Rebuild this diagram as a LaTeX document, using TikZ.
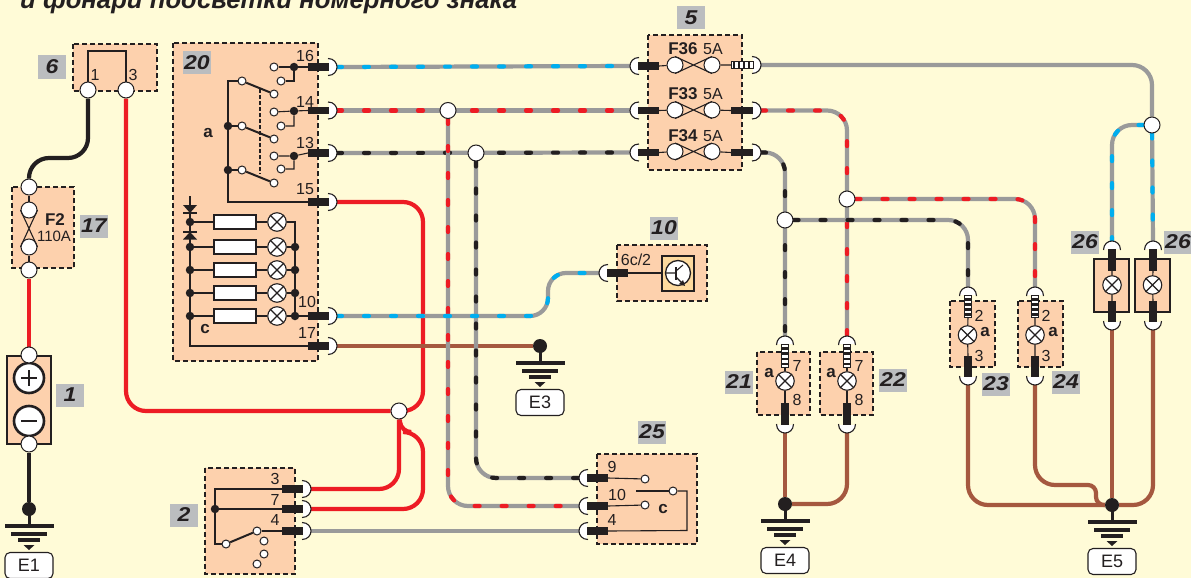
\documentclass[tikz,border=0pt]{standalone}
\usepackage{fontspec}
\setmainfont{Liberation Sans}
\definecolor{pg}{HTML}{FFFBD7}
\definecolor{boxf}{HTML}{FDD1AD}
\definecolor{labg}{HTML}{BBBDBF}
\definecolor{ink}{HTML}{231F20}
\definecolor{wgray}{HTML}{9A9A9A}
\definecolor{wred}{HTML}{ED1C24}
\definecolor{wblue}{HTML}{00AEEF}
\definecolor{wbrown}{HTML}{A5583F}
\definecolor{inner}{HTML}{FDDA9E}
\pgfdeclarelayer{bg}\pgfdeclarelayer{wires}
\pgfsetlayers{bg,wires,main}
\tikzset{
  dbox/.style={draw=ink,fill=boxf,line width=1.1pt,dash pattern=on 5pt off 3pt},
  sbox/.style={draw=ink,fill=boxf,line width=1.1pt},
  glab/.style={fill=labg,text=ink,inner sep=0pt,minimum width=28pt,minimum height=23pt,font=\bfseries\itshape\fontsize{20}{20}\selectfont},
  num/.style={text=ink,inner sep=0pt,font=\fontsize{16}{16}\selectfont},
  bnum/.style={text=ink,inner sep=0pt,font=\bfseries\fontsize{17}{17}\selectfont},
  blet/.style={text=ink,inner sep=0pt,font=\bfseries\fontsize{17}{17}\selectfont},
  cont/.style={circle,draw=ink,fill=white,line width=1pt,inner sep=0pt,minimum size=8pt},
  bigc/.style={circle,draw=ink,fill=white,line width=1pt,inner sep=0pt,minimum size=16pt},
  jd/.style={circle,fill=ink,inner sep=0pt,minimum size=8.5pt},
  lampc/.style={circle,draw=ink,fill=white,line width=1.1pt,inner sep=0pt,minimum size=18.5pt},
  thin wire/.style={draw=ink,line width=1.1pt},
  lever/.style={draw=ink,line width=2pt},
  resist/.style={draw=ink,fill=white,line width=1.1pt,inner sep=0pt,minimum width=42pt,minimum height=14pt},
  gw/.style={draw=wgray,line width=4.2pt,rounded corners=20pt},
  tone/.style={draw=#1,line width=4.2pt,line cap=round,dash pattern=on 5pt off 22pt,rounded corners=20pt},
  solidw/.style={draw=#1,line width=4.2pt,rounded corners=20pt}
}
\newcommand\twotone[2]{\begin{pgfonlayer}{wires}\draw[gw] #2;\draw[tone=#1] #2;\end{pgfonlayer}}
\newcommand\plainw[2]{\begin{pgfonlayer}{wires}\draw[solidw=#1] #2;\end{pgfonlayer}}
\newcommand\moonshape{\fill[white] (0,-8.5) .. controls (5,-8.5) and (8,-4) .. (8,0) .. controls (8,4) and (5,8.5) .. (0,8.5) -- cycle;
  \draw[ink,line width=1.1pt] (-1,-8.5) .. controls (5,-8.5) and (8,-4) .. (8,0) .. controls (8,4) and (5,8.5) .. (-1,8.5);}
% name,x,y,angle,length : black pin
\newcommand\term[5]{\begin{scope}[shift={(#2,#3)},rotate=#4]
  \moonshape
  \fill[ink] (-#5,-3.6) rectangle (0,3.6);
  \node[coordinate] (#1) at (8,0) {};
  \node[coordinate] (#1-in) at (-#5,0) {};
\end{scope}}
% name,x,y,angle,length : striped pin
\newcommand\sterm[5]{\begin{scope}[shift={(#2,#3)},rotate=#4]
  \moonshape
  \draw[ink,fill=white,line width=1pt] (-#5,-3.6) rectangle (0,3.6);
  \foreach \k in {1,2,3,4}{\fill[ink] ({-#5+(\k-0.7)*#5/4.4},-3.6) rectangle ({-#5+(\k-0.2)*#5/4.4},3.6);}
  \node[coordinate] (#1) at (8,0) {};
  \node[coordinate] (#1-in) at (-#5,0) {};
\end{scope}}
\newcommand\lampn[3]{\node[lampc] (#1) at (#2,#3) {};
  \draw[ink,line width=1.1pt] (#1.45)--(#1.225) (#1.135)--(#1.315);}
% name,x,y,label
\newcommand\groundn[4]{\node[circle,fill=ink,inner sep=0pt,minimum size=14pt] (#1) at (#2,#3) {};
  \begin{scope}[shift={(#2,#3)}]
  \fill[ink] (-24.5,14.5) rectangle (24.5,18.5);
  \fill[ink] (-18,22.5) rectangle (18,26.5);
  \fill[ink] (-11,29) rectangle (11,33);
  \fill[ink] (-5.5,36) -- (5.5,36) -- (0,41) -- cycle;
  \draw[ink,line width=3pt] (0,0) -- (0,15);
  \node[draw=ink,fill=white,line width=1.1pt,rounded corners=5pt,inner sep=0pt,minimum width=48pt,minimum height=26pt,text=ink,font=\fontsize{18}{18}\selectfont] (#1-lab) at (0,56.5) {#4};
  \end{scope}}
\newcommand\glabel[4]{\node[glab] (#1) at (#2,#3) {\scalebox{1.15}[1]{#4}};}
% fuse between two named nodes
\newcommand\fusex[2]{\draw[thin wire] (#1.180)--(#2.0) (#1.0)--(#2.180);}
\newcommand\fuseh[2]{\draw[thin wire] (#1.90)--(#2.270) (#1.270)--(#2.90);}
\begin{document}
\begin{tikzpicture}[x=1pt,y=-1pt]
\useasboundingbox (0,0) rectangle (1191,578);
\begin{pgfonlayer}{bg}\fill[pg] (0,0) rectangle (1191,578);\end{pgfonlayer}
\node[anchor=base west,inner sep=0pt,text=ink,font=\bfseries\itshape\fontsize{25.7}{26}\selectfont] (title) at (20,9) {и фонари подсветки номерного знака};

% boxes
\draw[dbox] (73,44) rectangle (157,91);
\draw[dbox] (12,187) rectangle (74,268);
\draw[sbox] (7,356) rectangle (51,444);
\draw[dbox] (173,43) rectangle (318,361);
\draw[dbox] (648,35) rectangle (742,170);
\draw[dbox] (617,245) rectangle (707,301);
\draw[dbox] (205,468) rectangle (295,574);
\draw[dbox] (597,454) rectangle (697,544);
\draw[dbox] (757,352) rectangle (810,415);
\draw[dbox] (820,352) rectangle (873,415);
\draw[dbox] (950,301) rectangle (995,367);
\draw[dbox] (1018,301) rectangle (1063,367);
\draw[sbox] (1094,259) rectangle (1129,312);
\draw[sbox] (1135,259) rectangle (1170,312);

% grey labels
\glabel{L6}{52}{67}{6}
\glabel{L17}{94}{226}{17}
\glabel{L1}{70}{395}{1}
\glabel{L20}{197}{63}{20}
\glabel{L2}{184}{515}{2}
\glabel{L5}{691}{18}{5}
\glabel{L10}{664}{228}{10}
\glabel{L25}{652}{432}{25}
\glabel{L21}{739}{382}{21}
\glabel{L22}{893}{380}{22}
\glabel{L23}{996}{384}{23}
\glabel{L24}{1066}{382}{24}
\glabel{L26a}{1085}{242}{26}
\glabel{L26b}{1178}{242}{26}

% big terminals left side
\node[bigc] (c61) at (88,90) {};
\node[bigc] (c63) at (126,90) {};
\node[num] (n61) at (95,75) {1};
\node[num] (n63) at (133,75) {3};
\draw[thin wire] (c61) -- (88,51) -- (126,51) -- (c63);
\node[bigc] (c17t) at (29,187) {};
\node[bigc] (f2a) at (29,210) {};
\node[bigc] (f2b) at (29,247) {};
\node[bigc] (c17b) at (29,270) {};
\draw[thin wire] (c17t)--(f2a) (f2b)--(c17b);
\fusex{f2a}{f2b}
\node[bnum] (nF2) at (55,220) {F2};
\node[text=ink,inner sep=0pt,font=\fontsize{15}{15}\selectfont] (n110) at (54,236) {110A};
\node[circle,draw=ink,fill=white,line width=2.6pt,inner sep=0pt,minimum size=30pt] (plus) at (29,378) {};
\node[circle,draw=ink,fill=white,line width=2.6pt,inner sep=0pt,minimum size=30pt] (minus) at (29,421) {};
\draw[ink,line width=2.4pt] (21,378)--(37,378) (29,370)--(29,386) (21,421)--(37,421);
\node[bigc] (c1t) at (29,355) {};
\node[bigc] (c1b) at (29,444) {};

% box 20 terminals
\term{t16}{329}{67}{0}{21}
\term{t14}{329}{110.5}{0}{21}
\term{t13}{329}{153}{0}{21}
\term{t15}{329}{202}{0}{21}
\term{t10}{329}{316}{0}{21}
\term{t17}{329}{346}{0}{21}
\node[num] (n16) at (305,56) {16};
\node[num] (n14) at (305,102) {14};
\node[num] (n13) at (305,143) {13};
\node[num] (n15) at (305,189) {15};
\node[num] (n10) at (307,302) {10};
\node[num] (n17) at (307,333) {17};
\node[jd] (g16) at (294,67) {};
\node[jd] (g14) at (294,111) {};
\node[jd] (g13) at (294,156) {};
\node[cont] (a16) at (274,67) {};
\node[cont] (b16) at (281,81) {};
\node[cont] (a14) at (274,112) {};
\node[cont] (b14) at (281,126) {};
\node[cont] (a13) at (274,156) {};
\node[cont] (b13) at (281,169) {};
\draw[thin wire] (a16)--(g16)--(t16-in) (b16)-|(g16);
\draw[thin wire] (a14)--(g14)--(t14-in) (b14)-|(g14);
\draw[thin wire] (a13)--(g13)--(t13-in) (b13)-|(g13);
\node[cont] (s1) at (242,81) {};
\node[cont] (e1) at (274,94) {};
\node[cont] (s2) at (242,126) {};
\node[cont] (e2) at (274,139) {};
\node[cont] (s3) at (242,170) {};
\node[cont] (e3) at (274,183) {};
\draw[lever] (s1)--(e1);\draw[lever] (s2)--(e2);\draw[lever] (s3)--(e3);
\node[jd] (r2) at (228,126) {};
\node[jd] (r3) at (228,170) {};
\draw[thin wire] (s1) -- (228,81) -- (r2) -- (r3) |- (t15-in);
\draw[thin wire] (r2)--(s2) (r3)--(s3);
\draw[ink,line width=1.1pt,dash pattern=on 3.5pt off 2.5pt] (260,89)--(260,174);
\node[blet] (na) at (208,133) {a};
% lamps box 20
\foreach \nm/\yy in {A/222,B/247,C/270,D/293,E/316}{
  \node[resist] (R\nm) at (235,\yy) {};
  \lampn{P\nm}{277}{\yy}
  \draw[thin wire] (R\nm) -- (P\nm);
}
\node[jd] (lA) at (190,222) {};
\node[jd] (lB) at (190,247) {};
\node[jd] (lC) at (190,270) {};
\node[jd] (lD) at (190,293) {};
\node[jd] (lE) at (190,316) {};
\node[jd] (rB) at (295,247) {};
\node[jd] (rC) at (295,270) {};
\node[jd] (rD) at (295,293) {};
\node[jd] (rE) at (295,316) {};
\draw[thin wire] (lA)--(RA) (lB)--(RB) (lC)--(RC) (lD)--(RD) (lE)--(RE);
\draw[thin wire] (PB)--(rB) (PC)--(rC) (PD)--(rD) (PE)--(rE)--(t10-in);
\draw[thin wire] (PA)--(295,222)--(rB)--(rC)--(rD)--(rE);
\draw[thin wire] (lB)--(lC)--(lD)--(lE)|-(t17-in);
\draw[thin wire] (190,196)--(lA)--(lB);
\fill[ink] (183,205)--(197,205)--(190,213)--cycle;
\draw[ink,line width=1.3pt] (183,213)--(197,213);
\fill[ink] (183,239.5)--(197,239.5)--(190,232)--cycle;
\draw[ink,line width=1.3pt] (183,232)--(197,232);
\node[blet] (nc) at (205,329) {c};

% box 5
\term{f36l}{638}{66}{180}{21}
\term{f33l}{638}{110.5}{180}{21}
\term{f34l}{638}{152.5}{180}{21}
\sterm{f36r}{753}{65}{0}{22}
\term{f33r}{753}{110.5}{0}{22}
\term{f34r}{753}{152.5}{0}{22}
\foreach \nm/\yy in {a/65,b/110,c/151.5}{
  \node[bigc] (fu\nm) at (675,\yy) {};
  \node[bigc] (fv\nm) at (712,\yy) {};
  \fuseh{fu\nm}{fv\nm}
}
\draw[thin wire] (f36l-in)--(fua) (fva)--(f36r-in) (f33l-in)--(fub) (fvb)--(f33r-in) (f34l-in)--(fuc) (fvc)--(f34r-in);
\node[bnum] (nF36) at (683,49) {F36};
\node[num] (n5a1) at (713,49) {5A};
\node[bnum] (nF33) at (683,94) {F33};
\node[num] (n5a2) at (713,94) {5A};
\node[bnum] (nF34) at (683,136) {F34};
\node[num] (n5a3) at (713,136) {5A};

% box 10
\term{t6c}{607}{273}{180}{21}
\node[num] (n6c) at (636,260) {6c/2};
\draw[draw=ink,fill=inner,line width=1.1pt] (662,256) rectangle (694,291);
\node[circle,draw=ink,fill=white,line width=1.3pt,inner sep=0pt,minimum size=25pt] (trn) at (678,273) {};
\draw[thin wire] (t6c-in) -- (662,273);
\draw[ink,line width=1.1pt] (666,273)--(676,273) (676,271)--(683,265);
\draw[ink,line width=2.4pt] (676,267)--(676,280);
\draw[ink,line width=1.1pt] (676,277)--(682,283);
\fill[ink] (685,286)--(679,284)--(683,280)--cycle;

% box 2
\term{t23}{303}{489}{0}{21}
\term{t27}{303}{509}{0}{21}
\term{t24}{303}{531}{0}{21}
\node[num] (n23) at (275,479) {3};
\node[num] (n27) at (275,500) {7};
\node[num] (n24) at (275,520) {4};
\node[jd] (g2) at (215,509) {};
\node[cont] (k1) at (226,544) {};
\node[cont] (k2) at (257,531) {};
\node[cont] (k3) at (264,541) {};
\node[cont] (k4) at (264,554) {};
\node[cont] (k5) at (257,564) {};
\draw[lever] (k1)--(k2);
\draw[thin wire] (k2)--(t24-in);
\draw[thin wire] (t23-in)--(215,489)--(g2)--(215,544)--(k1);
\draw[thin wire] (g2)--(t27-in);

% box 25
\term{u9}{587}{478}{180}{21}
\term{u10}{587}{506}{180}{21}
\term{u4}{587}{531}{180}{21}
\node[num] (n25a) at (612,467) {9};
\node[num] (n25b) at (617,495) {10};
\node[num] (n25c) at (612,520) {4};
\node[blet] (n25d) at (663,509) {c};
\node[cont] (m1) at (645,479) {};
\node[cont] (m2) at (645,505) {};
\node[cont] (m3) at (673,491) {};
\draw[thin wire] (u9-in)--(m1) (u10-in)--(m2);
\draw[thin wire] (m3)--(687,491)--(687,530.5)--(u4-in);
\draw[lever] (636,491)--(m3);

% lamp boxes 21 22
\sterm{t21t}{785}{344}{90}{23}
\sterm{t22t}{847}{344}{90}{23}
\term{t21b}{785}{425}{270}{22}
\term{t22b}{847}{425}{270}{22}
\lampn{P21}{785}{381}
\lampn{P22}{847}{381}
\draw[thin wire] (t21t-in)--(P21)--(t21b-in) (t22t-in)--(P22)--(t22b-in);
\node[num] (n217) at (797,366) {7};
\node[num] (n218) at (797,400) {8};
\node[num] (n227) at (859,366) {7};
\node[num] (n228) at (859,400) {8};
\node[blet] (n21a) at (769,373) {a};
\node[blet] (n22a) at (831,373) {a};

% lamp boxes 23 24
\sterm{t23t}{968}{295}{90}{22}
\sterm{t24t}{1035}{295}{90}{22}
\term{t23b}{968}{377}{270}{21}
\term{t24b}{1035}{377}{270}{21}
\lampn{P23}{967.5}{335}
\lampn{P24}{1035}{335}
\draw[thin wire] (t23t-in)--(P23)--(t23b-in) (t24t-in)--(P24)--(t24b-in);
\node[num] (n232) at (979,316) {2};
\node[num] (n233) at (979,356) {3};
\node[num] (n242) at (1046,316) {2};
\node[num] (n243) at (1046,356) {3};
\node[blet] (n23a) at (985,332) {a};
\node[blet] (n24a) at (1053,332) {a};

% lamp boxes 26
\term{t26at}{1112}{249}{90}{22}
\term{t26bt}{1153}{249}{90}{22}
\term{t26ab}{1112}{322}{270}{21}
\term{t26bb}{1153}{322}{270}{21}
\lampn{P26a}{1112}{285}
\lampn{P26b}{1152.5}{285}
\draw[thin wire] (t26at-in)--(P26a)--(t26ab-in) (t26bt-in)--(P26b)--(t26bb-in);

% junctions
\node[bigc] (j14) at (448,110.5) {};
\node[bigc] (j13) at (476,153) {};
\node[bigc] (jR) at (399,411) {};
\node[bigc] (j26) at (1152,125) {};
\node[bigc] (j22) at (847,199) {};
\node[bigc] (j21) at (785,220) {};

% grounds
\groundn{gE1}{29}{509}{E1}
\groundn{gE3}{540}{346}{E3}
\groundn{gE4}{785}{504}{E4}
\groundn{gE5}{1112}{505}{E5}

% wires
\plainw{ink}{(c61) -- (88,158) -- (29,158) -- (c17t)}
\plainw{wred}{(c17b) -- (c1t)}
\plainw{ink}{(c1b) -- (gE1)}
\plainw{wred}{(c63) |- (jR)}
\plainw{wred}{(t15) -- (423,202) -- (423,411) -- (jR)}
\plainw{wred}{(t23) -| (jR)}
\begin{pgfonlayer}{wires}\draw[solidw=wred] (t27) -- (423,509) -- (423,432) [rounded corners=10pt] -- (401,432) -- (jR);\end{pgfonlayer}
\plainw{wbrown}{(t17) -- (gE3)}
\plainw{wgray}{(t24) -- (u4)}
\twotone{wblue}{(t16) -- (f36l)}
\twotone{wred}{(t14) -- (f33l)}
\twotone{ink}{(t13) -- (f34l)}
\twotone{wred}{(j14) |- (u10)}
\twotone{ink}{(j13) |- (u9)}
\begin{pgfonlayer}{wires}\draw[gw,rounded corners=18pt] (t10) -- (548,316) -- (548,273) -- (t6c);\draw[tone=wblue,rounded corners=18pt] (t10) -- (548,316) -- (548,273) -- (t6c);\end{pgfonlayer}
\plainw{wgray}{(f36r) -| (j26)}
\twotone{wblue}{(j26) -- (t26bt)}
\twotone{wblue}{(j26) -- (1112,125) -- (t26at)}
\twotone{wred}{(f33r) -| (t22t)}
\twotone{wred}{(j22) -| (t24t)}
\twotone{ink}{(f34r) -| (t21t)}
\twotone{ink}{(j21) -| (t23t)}
\plainw{wbrown}{(t21b) -- (gE4)}
\plainw{wbrown}{(t22b) |- (gE4)}
\plainw{wbrown}{(t23b) |- (gE5)}
\plainw{wbrown}{(t26ab) -- (gE5)}
\plainw{wbrown}{(t26bb) |- (gE5)}
\begin{pgfonlayer}{wires}\draw[solidw=wbrown] (t24b) -- (1035,485) [rounded corners=8pt] -- (1096,485) -- (1096,505) -- (gE5);\end{pgfonlayer}
\end{tikzpicture}
\end{document}
